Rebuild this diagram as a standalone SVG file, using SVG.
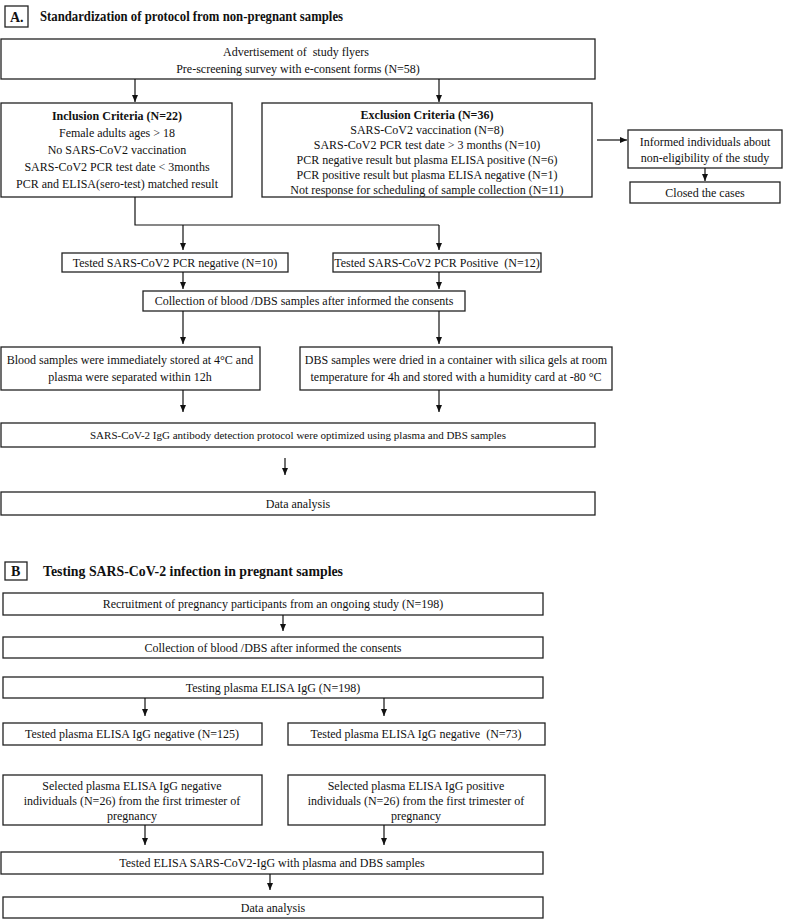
<svg xmlns="http://www.w3.org/2000/svg" width="787" height="921" viewBox="0 0 787 921">
<style>
.box{fill:#fff;stroke:#222;stroke-width:1.3}
.t{font-family:"Liberation Serif","Times New Roman",serif;font-size:12px;fill:#111;text-anchor:middle}
.b{font-weight:bold}
.h{font-family:"Liberation Serif","Times New Roman",serif;font-size:14px;font-weight:bold;fill:#111}
.c{fill:none;stroke:#111;stroke-width:1.2}
.a{marker-end:url(#ah)}
</style>
<defs>
<marker id="ah" markerWidth="7" markerHeight="6" refX="7" refY="3" orient="auto" markerUnits="userSpaceOnUse"><path d="M0,0 L7,3 L0,6 z" fill="#111"/></marker>
</defs>
<rect width="787" height="921" fill="#fff"/>

<g id="headerA">
<rect class="box" x="5" y="6" width="23" height="21"/>
<text class="h" x="10" y="22">A.</text>
<text class="h" x="40" y="21" textLength="303" lengthAdjust="spacingAndGlyphs">Standardization of protocol from non-pregnant samples</text>
</g>
<g id="advert">
<rect class="box" x="1" y="39" width="594" height="40"/>
<text class="t" x="296" y="56" xml:space="preserve">Advertisement of  study flyers</text>
<text class="t" x="298" y="73">Pre-screening survey with e-consent forms (N=58)</text>
</g>
<g id="inclusion">
<rect class="box" x="1" y="103" width="231" height="94"/>
<text class="t b" x="117" y="120">Inclusion Criteria (N=22)</text>
<text class="t" x="117" y="137">Female adults ages &gt; 18</text>
<text class="t" x="117" y="154">No SARS-CoV2 vaccination</text>
<text class="t" x="117" y="171">SARS-CoV2 PCR test date &lt; 3months</text>
<text class="t" x="117" y="188">PCR and ELISA(sero-test) matched result</text>
</g>
<g id="exclusion">
<rect class="box" x="262" y="103" width="330" height="94"/>
<text class="t b" x="427" y="119">Exclusion Criteria (N=36)</text>
<text class="t" x="427" y="134">SARS-CoV2 vaccination (N=8)</text>
<text class="t" x="427" y="149">SARS-CoV2 PCR test date &gt; 3 months (N=10)</text>
<text class="t" x="427" y="164">PCR negative result but plasma ELISA positive (N=6)</text>
<text class="t" x="427" y="179">PCR positive result but plasma ELISA negative (N=1)</text>
<text class="t" x="427" y="194">Not response for scheduling of sample collection (N=11)</text>
</g>
<g id="informed">
<rect class="box" x="628" y="130" width="154" height="38"/>
<text class="t" x="705" y="146">Informed individuals about</text>
<text class="t" x="705" y="162">non-eligibility of the study</text>
</g>
<g id="closed">
<rect class="box" x="630" y="182" width="150" height="21"/>
<text class="t" x="705" y="197">Closed the cases</text>
</g>
<g id="negA">
<rect class="box" x="62" y="253" width="226" height="19"/>
<text class="t" x="175" y="267">Tested SARS-CoV2 PCR negative (N=10)</text>
</g>
<g id="posA">
<rect class="box" x="333" y="253" width="208" height="19"/>
<text class="t" x="437" y="267" xml:space="preserve">Tested SARS-CoV2 PCR Positive  (N=12)</text>
</g>
<g id="collectA">
<rect class="box" x="143" y="291" width="322" height="20"/>
<text class="t" x="304" y="305">Collection of blood /DBS samples after informed the consents</text>
</g>
<g id="blood">
<rect class="box" x="1" y="347" width="259" height="43"/>
<text class="t" x="130" y="364">Blood samples were immediately stored at 4°C and</text>
<text class="t" x="130" y="381">plasma were separated within 12h</text>
</g>
<g id="dbs">
<rect class="box" x="300" y="347" width="312" height="43"/>
<text class="t" x="456" y="364">DBS samples were dried in a container with silica gels at room</text>
<text class="t" x="456" y="381">temperature for 4h and stored with a humidity card at -80 °C</text>
</g>
<g id="optimize">
<rect class="box" x="1" y="423" width="594" height="24"/>
<text class="t" x="298" y="439" style="font-size:11px">SARS-CoV-2 IgG antibody detection protocol were optimized using plasma and DBS samples</text>
</g>
<g id="dataA">
<rect class="box" x="1" y="492" width="594" height="23"/>
<text class="t" x="298" y="508">Data analysis</text>
</g>

<g id="headerB">
<rect class="box" x="5" y="562" width="22" height="18"/>
<text class="h" x="11" y="576">B</text>
<text class="h" x="43" y="576" textLength="300" lengthAdjust="spacingAndGlyphs">Testing SARS-CoV-2 infection in pregnant samples</text>
</g>
<g id="recruit">
<rect class="box" x="3" y="593" width="540" height="22"/>
<text class="t" x="273" y="608">Recruitment of pregnancy participants from an ongoing study (N=198)</text>
</g>
<g id="collectB">
<rect class="box" x="3" y="637" width="540" height="21"/>
<text class="t" x="273" y="652">Collection of blood /DBS after informed the consents</text>
</g>
<g id="testing">
<rect class="box" x="3" y="677" width="540" height="21"/>
<text class="t" x="273" y="692">Testing plasma ELISA IgG (N=198)</text>
</g>
<g id="neg125">
<rect class="box" x="3" y="723" width="259" height="22"/>
<text class="t" x="132" y="738">Tested plasma ELISA IgG negative (N=125)</text>
</g>
<g id="neg73">
<rect class="box" x="288" y="723" width="257" height="22"/>
<text class="t" x="416" y="738" xml:space="preserve">Tested plasma ELISA IgG negative  (N=73)</text>
</g>
<g id="selNeg">
<rect class="box" x="3" y="775" width="259" height="50"/>
<text class="t" x="132" y="790">Selected plasma ELISA IgG negative</text>
<text class="t" x="132" y="805">individuals (N=26) from the first trimester of</text>
<text class="t" x="132" y="820">pregnancy</text>
</g>
<g id="selPos">
<rect class="box" x="288" y="775" width="257" height="50"/>
<text class="t" x="416" y="790">Selected plasma ELISA IgG positive</text>
<text class="t" x="416" y="805">individuals (N=26) from the first trimester of</text>
<text class="t" x="416" y="820">pregnancy</text>
</g>
<g id="testedB">
<rect class="box" x="1" y="852" width="542" height="22"/>
<text class="t" x="272" y="867">Tested ELISA SARS-CoV2-IgG with plasma and DBS samples</text>
</g>
<g id="dataB">
<rect class="box" x="3" y="897" width="540" height="21"/>
<text class="t" x="273" y="912">Data analysis</text>
</g>

<g id="connectors">
<path class="c a" d="M135,79 V102"/>
<path class="c a" d="M439,79 V102"/>
<path class="c a" d="M597,140 H627"/>
<path class="c a" d="M705,168 V181"/>
<path class="c" d="M135,197 V225 H439"/>
<path class="c a" d="M183,225 V250"/>
<path class="c a" d="M439,225 V250"/>
<path class="c a" d="M183,272 V289"/>
<path class="c a" d="M439,272 V289"/>
<path class="c a" d="M183,311 V344"/>
<path class="c a" d="M439,311 V344"/>
<path class="c a" d="M183,390 V412"/>
<path class="c a" d="M439,390 V412"/>
<path class="c a" d="M285,458 V475"/>
<path class="c a" d="M283,615 V631"/>
<path class="c a" d="M145,698 V716"/>
<path class="c a" d="M384,698 V716"/>
<path class="c a" d="M145,825 V845"/>
<path class="c a" d="M384,825 V845"/>
<path class="c a" d="M270,874 V890"/>
</g>
</svg>
